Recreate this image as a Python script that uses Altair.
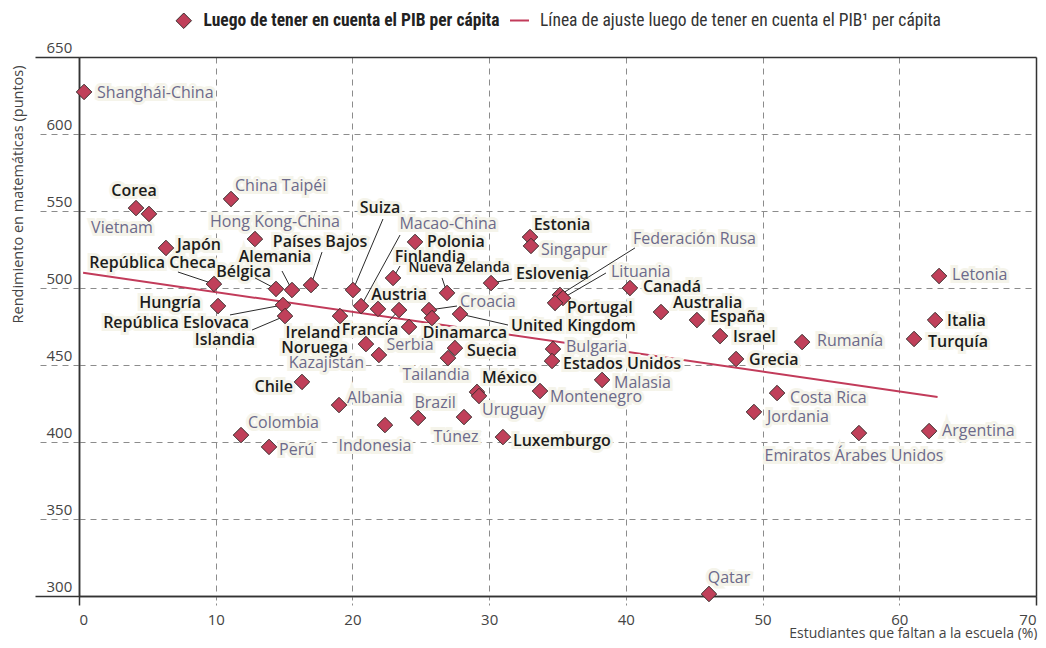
import altair as alt
import pandas as pd

# ---------------- data ----------------
countries = [
    "Shanghái-China", "Corea", "Vietnam", "China Taipéi", "Hong Kong-China", "Japón",
    "República Checa", "Bélgica", "Alemania", "Países Bajos", "Hungría", "República Eslovaca",
    "Islandia", "Suiza", "Macao-China", "Austria", "Francia", "Serbia", "Finlandia", "Polonia",
    "Nueva Zelanda", "Croacia", "Dinamarca", "Ireland", "Noruega", "Kazajistán", "Chile",
    "Suecia", "Tailandia", "United Kingdom", "Estonia", "Singapur", "Eslovenia",
    "Federación Rusa", "Lituania", "Portugal", "Canadá", "Australia", "España", "Israel",
    "Grecia", "Bulgaria", "Estados Unidos", "Malasia", "Montenegro", "México", "Uruguay",
    "Túnez", "Luxemburgo", "Brazil", "Indonesia", "Albania", "Colombia", "Perú", "Qatar",
    "Costa Rica", "Jordania", "Emiratos Árabes Unidos", "Argentina", "Letonia", "Italia",
    "Turquía", "Rumanía",
]
skip_pct = [
    0.37, 4.17, 5.12, 11.12, 12.87, 6.36,
    9.87, 14.41, 15.58, 16.97, 10.17, 14.92,
    15.07, 20.04, 20.63, 21.87, 23.41, 24.14, 22.97, 24.58,
    26.92, 25.60, 25.82, 19.09, 20.99, 21.94, 16.31,
    27.50, 26.99, 27.87, 32.99, 33.06, 30.14,
    35.18, 35.40, 34.82, 40.30, 42.57, 45.20, 46.89,
    48.06, 34.67, 34.60, 38.26, 33.72, 29.11, 29.26,
    28.16, 31.01, 24.80, 22.38, 19.02, 11.85, 13.90, 46.08,
    51.06, 49.37, 57.05, 62.18, 62.91, 62.62,
    61.08, 52.89,
]
math_score = [
    627.3, 551.9, 548.1, 557.8, 531.8, 526.0,
    502.6, 499.4, 498.7, 501.9, 488.3, 489.0,
    481.8, 498.7, 488.3, 486.4, 485.7, 474.7, 506.5, 529.9,
    496.8, 485.7, 480.5, 481.8, 463.6, 456.5, 439.0,
    461.0, 454.5, 483.1, 533.1, 527.3, 503.2,
    495.5, 493.5, 490.3, 500.0, 484.4, 479.2, 468.8,
    453.9, 460.4, 452.6, 440.3, 433.1, 432.5, 429.9,
    416.2, 403.2, 415.6, 411.0, 424.0, 404.5, 396.8, 301.3,
    431.8, 419.5, 405.8, 407.1, 507.8, 479.2,
    466.9, 464.9,
]
is_oecd = [
    0, 1, 0, 0, 0, 1,
    1, 1, 1, 1, 1, 1,
    1, 1, 0, 1, 1, 0, 1, 1,
    1, 0, 1, 1, 1, 0, 1,
    1, 0, 1, 1, 0, 1,
    0, 0, 1, 1, 1, 1, 1,
    1, 0, 1, 0, 0, 1, 0,
    0, 1, 0, 0, 0, 0, 0, 0,
    0, 0, 0, 0, 0, 1,
    1, 0,
]

# regression line (end points)
fit_x = [0.3, 62.8]
fit_y = [509.9, 429.2]

# ---------------- label layout (pixels) ----------------
lab_align = [
    "left", "center", "center", "left", "center", "left",
    "right", "right", "center", "center", "right", "right",
    "right", "center", "center", "center", "center", "center", "center", "left",
    "center", "left", "center", "center", "right", "right", "right",
    "left", "center", "left", "center", "left", "left",
    "left", "left", "left", "left", "left", "left", "left",
    "left", "left", "left", "left", "left", "left", "left",
    "center", "left", "center", "center", "left", "left", "left", "center",
    "left", "left", "center", "left", "left", "left",
    "left", "left",
]
lab_dx = [
    13, -2, -27, 4, 20, 11,
    2, -5, -17, 9, -17, -34,
    -30, 27, 87, 21, -29, 1, 37, 12,
    12, 31, 33, -27, -18, -15, -9,
    12, -12, 51, 32, 10, 25,
    73, 48, 12, 13, 12, 13, 13,
    13, 13, 11, 12, 10, 5, 3,
    -8, 10, 17, -10, 8, 7, 10, 20,
    13, 13, -5, 13, 13, 12,
    14, 15,
]
lab_dy = [
    1, -17, 14, -13, -17, -3,
    -21, -17, -33, -43, -3, 18,
    24, -82, -82, -14, 20, 18, -21, 0,
    -25, -8, 15, 17, 4, 8, 5,
    3, 17, 12, -12, 4, -9,
    -56, -26, 5, -1, -9, -3, 1,
    1, -2, 3, 3, 6, -14, 14,
    20, 4, -15, 21, -7, -12, 3, -16,
    5, 5, 23, 0, -1, 1,
    3, -1,
]
small_labels = ["Nueva Zelanda"]

# leader lines: country -> pixel offset of the far end from the marker
leaders = {
    "República Checa": (-36, -12), "Bélgica": (-21, -11), "Alemania": (-10, -19),
    "Países Bajos": (11, -33), "República Eslovaca": (-53, 10), "Islandia": (-33, 14),
    "Suiza": (30, -71), "Macao-China": (39, -71), "Finlandia": (7, -12),
    "Nueva Zelanda": (-5, -15), "Croacia": (28, -4), "United Kingdom": (48, 11),
    "Francia": (-11, 12), "Eslovenia": (21, -4), "Federación Rusa": (75, -47),
    "Lituania": (43, -25),
}

W, H = 957, 539
XD = [0, 70]
YD = [300, 650]
BG = "#f5f4ea"
FONT = "Open Sans"
LEGFONT = "Liberation Sans Narrow, Roboto Condensed, Roboto"

df = pd.DataFrame({
    "name": countries, "x": skip_pct, "y": math_score, "oecd": is_oecd,
    "al": lab_align, "dx": lab_dx, "dy": lab_dy,
})
df["fw"] = df["oecd"].map({1: 600, 0: 400})
df["fs"] = [14 if n in small_labels else 16 for n in countries]
df["tcol"] = df["oecd"].map({1: "#1c1c1c", 0: "#6c6a8a"})
df["leg"] = "Luego de tener en cuenta el PIB per cápita"

rows = []
for name, (ldx, ldy) in leaders.items():
    r = df[df["name"] == name].iloc[0]
    rows.append({
        "x": r["x"], "y": r["y"],
        "x2": r["x"] + ldx * (XD[1] - XD[0]) / W,
        "y2": r["y"] - ldy * (YD[1] - YD[0]) / H,
    })
lead = pd.DataFrame(rows)

fit = pd.DataFrame({"x": fit_x, "y": fit_y,
                    "leg": "Línea de ajuste luego de tener en cuenta el PIB¹ per cápita"})

xs = alt.Scale(domain=XD, nice=False, zero=False)
ys = alt.Scale(domain=YD, nice=False, zero=False)

ex = "datum.value == 0 || datum.value == 70"
ey = "datum.value == 300 || datum.value == 650"

xaxis = alt.Axis(
    values=list(range(0, 71, 10)), title="Estudiantes que faltan a la escuela (%)",
    grid=True,
    gridColor={"condition": {"test": ex, "value": "#333333"}, "value": "#8c8c8c"},
    gridDash={"condition": {"test": ex, "value": []}, "value": [6, 5]},
    gridWidth={"condition": {"test": ex, "value": 1.5}, "value": 1},
    tickSize=9,
    tickColor={"condition": {"test": ex, "value": "#333333"}, "value": "#8c8c8c"},
    tickDash={"condition": {"test": ex, "value": []}, "value": [4, 3]},
    tickWidth={"condition": {"test": ex, "value": 1.5}, "value": 1},
    domainColor="#333333", domainWidth=1.5,
    labelFont=FONT, labelFontSize=15, labelColor="#444444", labelPadding=7,
    titleFont=FONT, titleFontSize=14, titleFontWeight="normal", titleColor="#444444",
    titleAlign="right", titleX=958, titleY=37, titleBaseline="middle",
)
yaxis = alt.Axis(
    values=list(range(300, 651, 50)), title="Rendimiento en matemáticas (puntos)",
    grid=True,
    gridColor={"condition": {"test": ey, "value": "#333333"}, "value": "#8c8c8c"},
    gridDash={"condition": {"test": ey, "value": []}, "value": [6, 5]},
    gridWidth={"condition": {"test": ey, "value": 1.5}, "value": 1},
    tickSize=44,
    tickColor={"condition": {"test": ey, "value": "#333333"}, "value": "#8c8c8c"},
    tickDash={"condition": {"test": ey, "value": []}, "value": [6, 5]},
    tickWidth={"condition": {"test": ey, "value": 1.5}, "value": 1},
    domainColor="#333333", domainWidth=1.5,
    labelFont=FONT, labelFontSize=15, labelColor="#444444",
    labelAlign="left", labelPadding=-11, labelBaseline="bottom", labelOffset=-2,
    titleFont=FONT, titleFontSize=14.5, titleFontWeight="normal", titleColor="#444444",
    titleAngle=270, titleAlign="right", titleBaseline="middle", titleX=-61, titleY=8,
)

X = alt.X("x:Q", scale=xs, axis=xaxis)
Y = alt.Y("y:Q", scale=ys, axis=yaxis)
Xp = alt.X("x:Q", scale=xs)
Yp = alt.Y("y:Q", scale=ys)

fit_line = alt.Chart(fit).mark_line(strokeWidth=2).encode(
    x=X, y=Y,
    stroke=alt.Stroke("leg:N", scale=alt.Scale(range=["#c23b5a"]), legend=alt.Legend(
        orient="none", legendX=430, legendY=-47, title=None, symbolType="stroke",
        symbolSize=361, symbolStrokeWidth=2, labelFont=LEGFONT, labelFontSize=17.5,
        labelColor="#333333", labelLimit=900, labelOffset=10, padding=0)),
)

halo = alt.Chart(df).mark_text(
    align={"expr": "datum.al"}, dx={"expr": "datum.dx"}, dy={"expr": "datum.dy"},
    baseline="middle", font=FONT, fontSize={"expr": "datum.fs"},
    fontWeight={"expr": "datum.fw"}, fill=BG, stroke=BG, strokeWidth=6,
).encode(x=Xp, y=Yp, text="name:N")

lead_lines = alt.Chart(lead).mark_rule(color="#2a2a2a", strokeWidth=1).encode(
    x=Xp, y=Yp, x2="x2:Q", y2="y2:Q")

points = alt.Chart(df).mark_point(
    shape="diamond", filled=True, size=240, stroke="#3a2d2d", strokeWidth=1, opacity=1,
).encode(
    x=Xp, y=Yp,
    fill=alt.Fill("leg:N", scale=alt.Scale(range=["#c0405a"]), legend=alt.Legend(
        orient="none", legendX=96, legendY=-45, title=None, symbolType="diamond",
        symbolSize=240, symbolStrokeColor="#3a2d2d", symbolStrokeWidth=1,
        symbolOpacity=1, labelFont=LEGFONT, labelFontSize=17.5, labelFontWeight="bold",
        labelColor="#222222", labelLimit=900, labelOffset=11, padding=0)),
)

labels = alt.Chart(df).mark_text(
    align={"expr": "datum.al"}, dx={"expr": "datum.dx"}, dy={"expr": "datum.dy"},
    baseline="middle", font=FONT, fontSize={"expr": "datum.fs"},
    fontWeight={"expr": "datum.fw"},
).encode(x=Xp, y=Yp, text="name:N", color=alt.Color("tcol:N", scale=None, legend=None))

chart = alt.layer(fit_line, halo, lead_lines, points, labels).properties(
    width=W, height=H,
    autosize=alt.AutoSizeParams(type="none"),
    padding={"left": 71, "top": 49, "right": 2, "bottom": 44},
).configure_view(fill=BG, stroke=None).configure(background="white")

chart.save("out.html", embed_options={"renderer": "svg", "actions": False})
